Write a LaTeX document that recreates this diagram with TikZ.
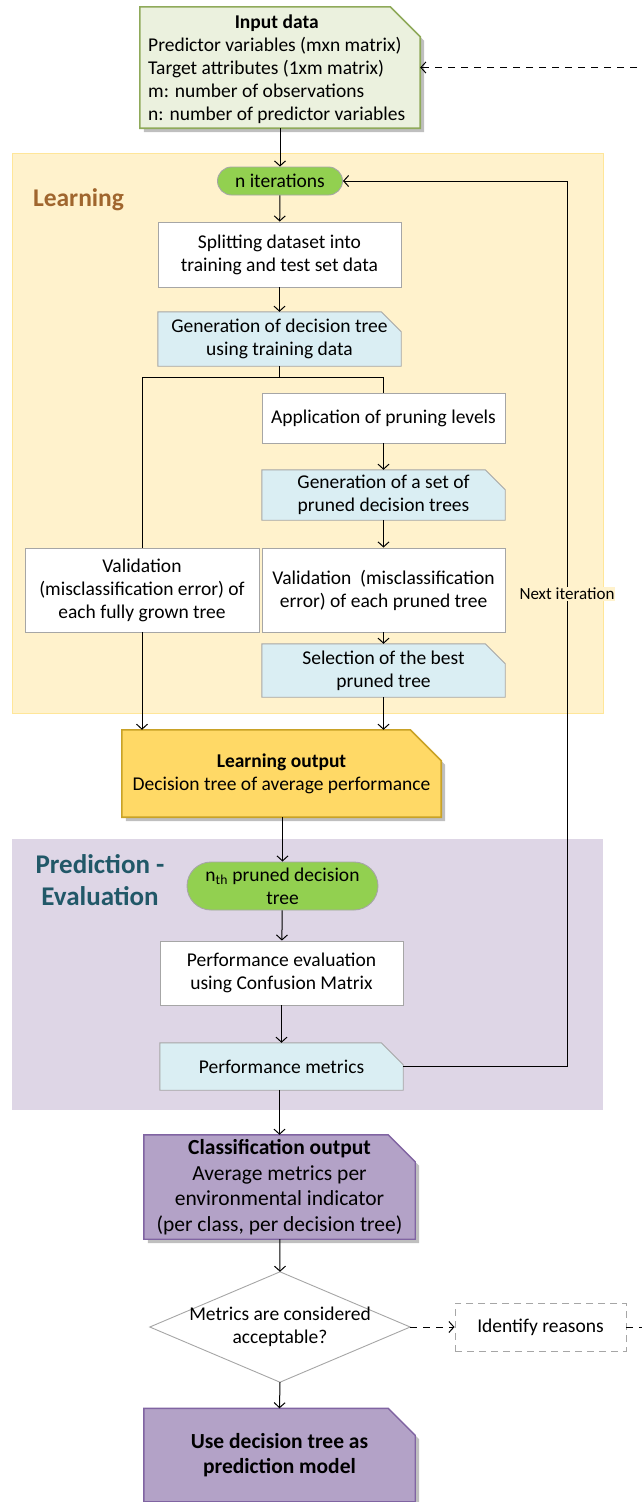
\documentclass[tikz,border=0pt]{standalone}
\usepackage{fontspec}
\setmainfont{Carlito}
\usetikzlibrary{arrows.meta,shadows}

\definecolor{inputfill}{HTML}{EBF1DE}
\definecolor{inputline}{HTML}{8FAA5A}
\definecolor{learnzone}{HTML}{FFF2CC}
\definecolor{learnzoneline}{HTML}{FFE699}
\definecolor{learnlabel}{HTML}{A0662E}
\definecolor{predzone}{HTML}{DED6E6}
\definecolor{predlabel}{HTML}{215868}
\definecolor{pillgreen}{HTML}{92D050}
\definecolor{boxline}{HTML}{A6A6A6}
\definecolor{docblue}{HTML}{DAEEF3}
\definecolor{goldfill}{HTML}{FFD966}
\definecolor{goldline}{HTML}{C9A227}
\definecolor{purplefill}{HTML}{B3A2C7}
\definecolor{purpleline}{HTML}{8064A2}

\pgfdeclarelayer{zones}
\pgfdeclarelayer{shapes}
\pgfsetlayers{zones,shapes,main}

% outline of a box whose top-right corner is cut off
\newcommand\cutshape[3]{%
  \begin{pgfonlayer}{shapes}
    \path[#3] (#1.north west) -- ([xshift=-#2pt]#1.north east)
      -- ([yshift=-#2pt]#1.north east) -- (#1.south east)
      -- (#1.south west) -- cycle;
  \end{pgfonlayer}}

\tikzset{
  x=1pt, y=-1pt,
  base/.style={inner sep=0pt, align=center, font=\fontsize{19.5}{23}\selectfont},
  plainbox/.style={base, rectangle, draw=boxline, line width=0.9pt, fill=white},
  pill/.style={base, rectangle, rounded corners=#1, draw=boxline, line width=0.9pt, fill=pillgreen},
  docbox/.style={base, rectangle},
  bigtext/.style={font=\fontsize{21.5}{25.5}\selectfont},
  conn/.style={line width=1pt, -{Straight Barb[length=5pt,width=11pt]}},
  line/.style={line width=1pt},
  dashconn/.style={conn, dash pattern=on 7pt off 6pt},
  shade/.style={drop shadow={shadow xshift=4pt, shadow yshift=-4pt, opacity=0.25, fill=black}},
}

\begin{document}
\begin{tikzpicture}
\useasboundingbox (0,0) rectangle (641,1502);

% phase zones
\begin{pgfonlayer}{zones}
  \path[fill=learnzone, draw=learnzoneline, line width=1pt] (12,153) rectangle (603,713);
  \path[fill=predzone] (12,839) rectangle (603,1110);
\end{pgfonlayer}
\node[font=\fontsize{25.5}{28}\selectfont\bfseries, text=learnlabel] (learnlbl) at (78.5,200) {Learning};
\node[font=\fontsize{27}{32}\selectfont\bfseries, text=predlabel, align=center] (predlbl) at (100,880) {Prediction -\\Evaluation};

% input data
\node[docbox, minimum width=280pt, minimum height=121pt] (input) at (280,67.5) {};
\node[base, anchor=north west] (inputtxt) at (148,12)
  {\begin{tabular}{@{}l@{}}
     \multicolumn{1}{@{}c@{}}{\textbf{Input data}}\\
     Predictor variables (mxn matrix)\\
     Target attributes (1xm matrix)\\
     m: number of observations\\
     n: number of predictor variables
   \end{tabular}};
\cutshape{input}{30}{fill=inputfill, draw=inputline, line width=1.6pt, shade}

% learning phase
\node[pill=14pt, minimum width=125pt, minimum height=28pt] (niter) at (280,181) {n iterations};
\node[plainbox, minimum width=243pt, minimum height=65pt] (split) at (279.5,254.5) {Splitting dataset into\\training and test set data};
\node[docbox, minimum width=243pt, minimum height=54pt] (gen) at (279.5,339) {Generation of decision tree\\using training data};
\cutshape{gen}{20}{fill=docblue, draw=boxline, line width=0.9pt}
\coordinate (branch) at (279.5,377);
\node[plainbox, minimum width=243pt, minimum height=50pt] (app) at (383.5,418) {Application of pruning levels};
\node[docbox, minimum width=243pt, minimum height=50pt] (genset) at (383.5,495) {Generation of a set of\\pruned decision trees};
\cutshape{genset}{20}{fill=docblue, draw=boxline, line width=0.9pt}
\node[plainbox, minimum width=234pt, minimum height=84pt] (valleft) at (142,590) {Validation\\(misclassification error) of\\each fully grown tree};
\node[plainbox, minimum width=243pt, minimum height=84pt] (valright) at (383.5,590) {Validation \ (misclassification\\error) of each pruned tree};
\node[docbox, minimum width=243pt, minimum height=53pt] (select) at (383.5,670.5) {Selection of the best\\pruned tree};
\cutshape{select}{20}{fill=docblue, draw=boxline, line width=0.9pt}

\node[docbox, minimum width=319pt, minimum height=87pt] (learnout) at (281.5,773.5) {\textbf{Learning output}\\Decision tree of average performance};
\cutshape{learnout}{31}{fill=goldfill, draw=goldline, line width=1.6pt, shade}

% prediction - evaluation phase
\node[pill=24pt, minimum width=191pt, minimum height=48pt] (nth) at (282.5,886) {n\textsubscript{th} pruned decision\\tree};
\node[plainbox, minimum width=243pt, minimum height=64pt] (perfeval) at (281.5,973) {Performance evaluation\\using Confusion Matrix};
\node[docbox, minimum width=243pt, minimum height=47pt] (perfmet) at (281.5,1066.5) {Performance metrics};
\cutshape{perfmet}{22}{fill=docblue, draw=boxline, line width=0.9pt}

% outcome
\node[docbox, bigtext, minimum width=271pt, minimum height=104pt] (classout) at (279.5,1187)
  {\textbf{Classification output}\\Average metrics per\\environmental indicator\\(per class, per decision tree)};
\cutshape{classout}{27}{fill=purplefill, draw=purpleline, line width=1.4pt, shade}

\node[docbox, minimum width=260pt, minimum height=110pt] (accept) at (280,1327) {Metrics are considered\\acceptable?};
\begin{pgfonlayer}{shapes}
  \path[fill=white, draw=boxline, line width=0.9pt] (accept.north) -- (accept.east) -- (accept.south) -- (accept.west) -- cycle;
\end{pgfonlayer}
\node[base, draw=boxline, dash pattern=on 7pt off 5pt, line width=0.9pt, fill=white, minimum width=171pt, minimum height=48pt] (ident) at (540.5,1327) {Identify reasons};

\node[docbox, bigtext, minimum width=271pt, minimum height=93pt] (usetree) at (279.5,1455) {\bfseries Use decision tree as\\\bfseries prediction model};
\cutshape{usetree}{27}{fill=purplefill, draw=purpleline, line width=1.4pt, shade}

% connectors
\draw[conn] (input.south) -- (niter.north);
\draw[conn] (niter) -- (split);
\draw[conn] (split) -- (gen);
\draw[line] (gen.south) -- (branch);
\draw[line] (branch) -| (valleft.north);
\draw[line] (branch) -| (app.north);
\draw[conn] (app) -- (genset);
\draw[conn] (genset) -- (valright);
\draw[conn] (valright) -- (select);
\draw[conn] (valleft.south) -- (valleft.south |- learnout.north);
\draw[conn] (select.south) -- (select.south |- learnout.north);
\draw[conn] (learnout.south -| nth.north) -- (nth.north);
\draw[conn] (nth) -- (perfeval);
\draw[conn] (perfeval) -- (perfmet);
\coordinate (loopx) at (567,1066.5);
\draw[conn] (perfmet.east) -- (loopx) |- (niter.east)
  node[pos=0.267, fill=learnzone, inner sep=1pt, font=\fontsize{17}{19}\selectfont] (nextlbl) {Next iteration};
\draw[conn] (perfmet.south -| classout.north) -- (classout.north);
\draw[conn] (classout) -- (accept.north);
\draw[conn] (accept.south) -- (usetree.north);
\draw[dashconn] (accept.east) -- (ident.west);
\coordinate (backx) at (652,1327);
\draw[dashconn] (ident.east) -- (backx) |- (input.east);
\end{tikzpicture}
\end{document}
